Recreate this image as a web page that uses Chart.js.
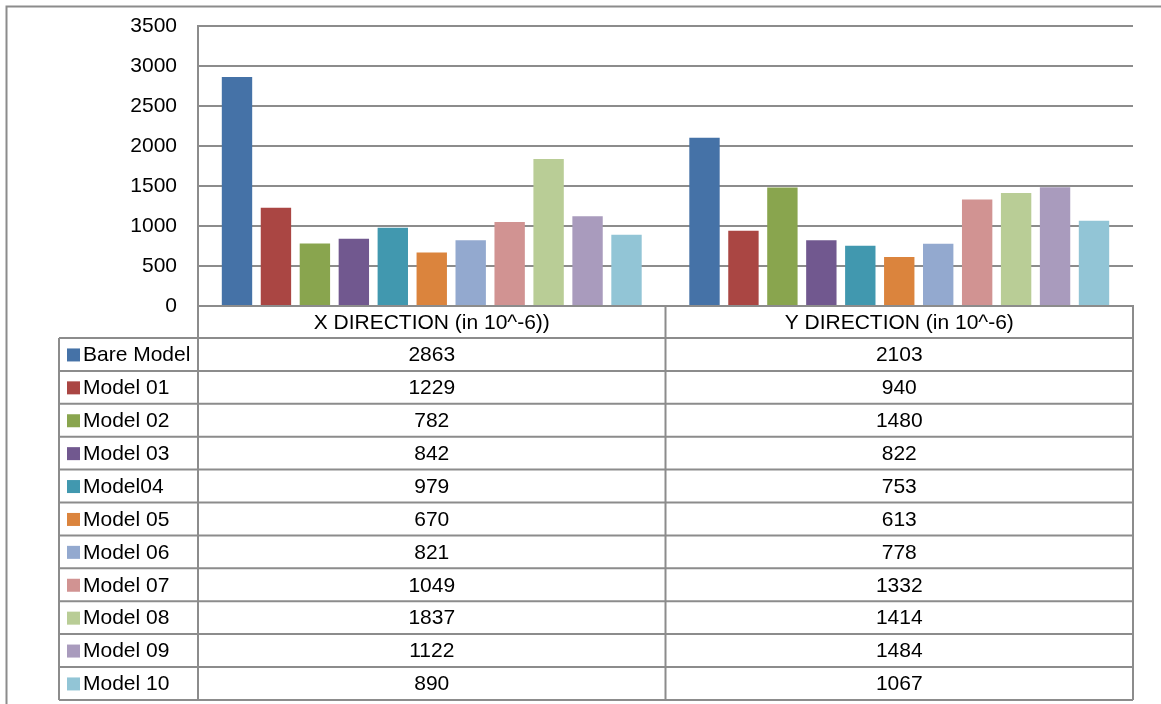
<!DOCTYPE html>
<html>
<head>
<meta charset="utf-8">
<script src="https://cdn.jsdelivr.net/npm/chart.js@4.4.1/dist/chart.umd.min.js"></script>
<style>
  html, body { margin: 0; padding: 0; background: #fff; }
  #wrap { width: 1161px; height: 704px; position: relative; }
</style>
</head>
<body>
<div id="wrap"><canvas id="strainChart"></canvas></div>
<script>
const categories = ['X DIRECTION (in 10^-6))', 'Y DIRECTION (in 10^-6)'];
const models = ['Bare Model', 'Model 01', 'Model 02', 'Model 03', 'Model04', 'Model 05',
    'Model 06', 'Model 07', 'Model 08', 'Model 09', 'Model 10'];
const xDirection = [2863, 1229, 782, 842, 979, 670, 821, 1049, 1837, 1122, 890];
const yDirection = [2103, 940, 1480, 822, 753, 613, 778, 1332, 1414, 1484, 1067];
const yTicks = [0, 500, 1000, 1500, 2000, 2500, 3000, 3500];

const colors = ['#4572A7', '#AA4643', '#89A54E', '#71588F', '#4198AF', '#DB843D',
    '#93A9CF', '#D19392', '#B9CD96', '#A99BBD', '#92C5D6'];

const FONT = "'Liberation Sans', Arial, sans-serif";
const LINE = '#8c8c8c';

// data table under the plot, drawn from the chart's own data
const dataTable = {
    id: 'dataTable',
    afterDraw(chart) {
        const ctx = chart.ctx;
        const area = chart.chartArea;
        const xs = chart.scales.x;
        const headerH = 32;
        const rowH = 32.9;
        const tableLeft = 59;
        const top = area.bottom;
        const rowsTop = top + headerH;
        const bottom = rowsTop + rowH * chart.data.datasets.length;
        const mid = (xs.getPixelForValue(0) + xs.getPixelForValue(1)) / 2;

        ctx.save();
        ctx.strokeStyle = LINE;
        ctx.lineWidth = 2;
        ctx.beginPath();
        [area.left, mid, area.right].forEach(x => {
            ctx.moveTo(x, top);
            ctx.lineTo(x, bottom);
        });
        ctx.moveTo(tableLeft, rowsTop);
        ctx.lineTo(tableLeft, bottom);
        for (let i = 0; i <= chart.data.datasets.length; i++) {
            const y = rowsTop + i * rowH;
            ctx.moveTo(tableLeft, y);
            ctx.lineTo(area.right, y);
        }
        ctx.stroke();

        ctx.fillStyle = '#000';
        ctx.font = '21px ' + FONT;
        ctx.textBaseline = 'middle';
        ctx.textAlign = 'center';
        chart.data.labels.forEach((lab, j) => {
            ctx.fillText(lab, xs.getPixelForValue(j), top + headerH / 2 + 1);
        });

        chart.data.datasets.forEach((ds, i) => {
            const cy = rowsTop + i * rowH + rowH / 2;
            ctx.fillStyle = ds.backgroundColor;
            ctx.fillRect(67, cy - 6, 13, 13);
            ctx.fillStyle = '#000';
            ctx.textAlign = 'left';
            ctx.fillText(ds.label, 83, cy + 1);
            ctx.textAlign = 'center';
            ds.data.forEach((v, j) => {
                ctx.fillText(String(v), xs.getPixelForValue(j), cy + 1);
            });
        });

        // outer chart border
        ctx.beginPath();
        ctx.moveTo(6.5, chart.height);
        ctx.lineTo(6.5, 6.5);
        ctx.lineTo(chart.width, 6.5);
        ctx.stroke();
        ctx.restore();
    }
};

const whiteBg = {
    id: 'whiteBg',
    beforeDraw(chart) {
        const ctx = chart.ctx;
        ctx.save();
        ctx.fillStyle = '#fff';
        ctx.fillRect(0, 0, chart.width, chart.height);
        ctx.restore();
    }
};

new Chart('strainChart', {
    type: 'bar',
    data: {
        labels: categories,
        datasets: models.map((m, i) => ({
            label: m,
            data: [xDirection[i], yDirection[i]],
            backgroundColor: colors[i],
            borderWidth: 0,
            categoryPercentage: 0.9165,
            barPercentage: 0.78
        }))
    },
    options: {
        responsive: true,
        maintainAspectRatio: false,
        animation: false,
        layout: { padding: { top: 26, right: 28, left: 0, bottom: 0 } },
        plugins: {
            legend: { display: false },
            tooltip: { enabled: false }
        },
        scales: {
            x: {
                ticks: { display: false },
                grid: { display: false },
                border: { display: true, color: LINE, width: 2 },
                afterFit: (scale) => { scale.height = 398; }
            },
            y: {
                min: 0,
                max: 3500,
                afterBuildTicks: (scale) => { scale.ticks = yTicks.map(v => ({ value: v })); },
                ticks: {
                    padding: 0,
                    color: '#000',
                    font: { family: FONT, size: 21 },
                    callback: (v) => String(v)
                },
                // invisible tick marks keep the labels away from the axis
                grid: { color: LINE, lineWidth: 2, drawTicks: true, tickLength: 21, tickColor: 'rgba(0,0,0,0)' },
                border: { display: true, color: LINE, width: 2 },
                afterFit: (scale) => { scale.width = 198; }
            }
        }
    },
    plugins: [whiteBg, dataTable]
});
</script>
</body>
</html>
